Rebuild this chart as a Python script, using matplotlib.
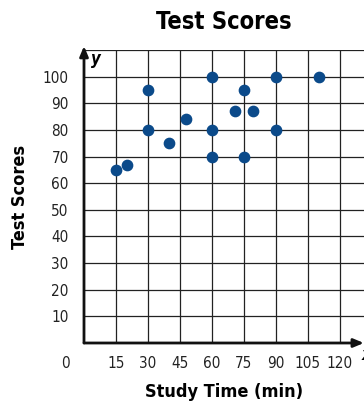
import matplotlib
matplotlib.use('Agg')
import matplotlib.pyplot as plt

# study time (min) and test score for each student
study_time = [15, 20, 30, 30, 40, 48, 60, 60, 60, 71, 75, 75, 79, 90, 90, 110]
test_score = [65, 67, 95, 80, 75, 84, 100, 80, 70, 87, 95, 70, 87, 100, 80, 100]

x_ticks = [15, 30, 45, 60, 75, 90, 105, 120]
y_ticks = [10, 20, 30, 40, 50, 60, 70, 80, 90, 100]

font = dict(family='DejaVu Sans', stretch='condensed')

fig = plt.figure(figsize=(3.64, 4.04), dpi=100)
ax = fig.add_axes([84/364, 61/404, 280/364, 293/404])

ax.set_xlim(0, 131.25)
ax.set_ylim(0, 110)

# grid lines
for xv in x_ticks:
    ax.axvline(xv, color='#222222', lw=0.9, zorder=1)
for yv in y_ticks + [110]:
    ax.axhline(yv, color='#222222', lw=0.9, zorder=1)

for s in ax.spines.values():
    s.set_visible(False)

# axes with arrows
ax.annotate('', xy=(131.2, 0), xytext=(0, 0),
            arrowprops=dict(arrowstyle='-|>,head_length=0.6,head_width=0.25', lw=2, color='#111111',
                            shrinkA=0, shrinkB=0), annotation_clip=False, zorder=3)
ax.annotate('', xy=(0, 111.5), xytext=(0, 0),
            arrowprops=dict(arrowstyle='-|>,head_length=0.6,head_width=0.25', lw=2, color='#111111',
                            shrinkA=0, shrinkB=0), annotation_clip=False, zorder=3)

ax.scatter(study_time, test_score, s=55, color='#0b4a8a', zorder=4, clip_on=False)

ax.set_xticks(x_ticks)
ax.set_yticks(y_ticks)
ax.set_xticklabels([str(v) for v in x_ticks], fontdict=font)
ax.set_yticklabels([str(v) for v in y_ticks], fontdict=font)
ax.tick_params(length=0, labelsize=11, colors='#222222')
ax.tick_params(axis='x', pad=9)
ax.tick_params(axis='y', pad=11)
ax.text(-19/32*15, -7.8, '0', ha='center', va='center', fontsize=11, color='#222222', **font)

ax.text(5.5, 106.5, 'y', ha='center', va='center', fontsize=12, style='italic', fontweight='bold', **font)
ax.text(132.5, -4.5, 'x', ha='center', va='center', fontsize=12, style='italic', fontweight='bold',
        clip_on=False, **font)

ax.set_title('Test Scores', fontsize=17, fontweight='bold', pad=15, **font)
ax.set_xlabel('Study Time (min)', fontsize=13, fontweight='bold', labelpad=9, **font)
ax.set_ylabel('Test Scores', fontsize=13, fontweight='bold', labelpad=10, **font)

fig.savefig('out.png', dpi=100)
